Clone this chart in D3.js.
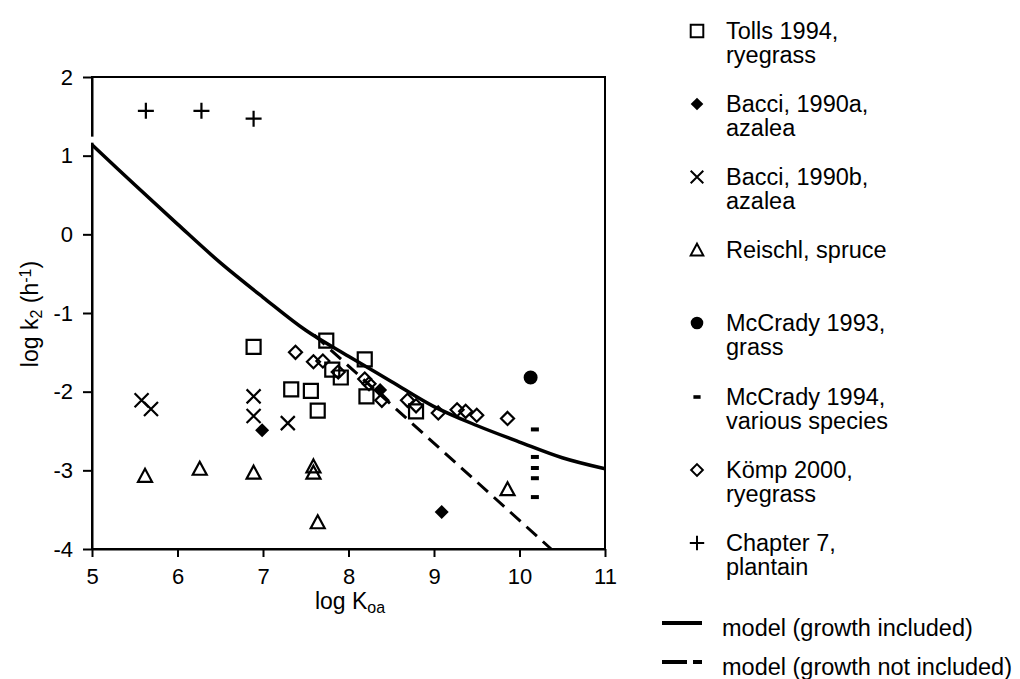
<!DOCTYPE html>
<html>
<head>
<meta charset="utf-8">
<script src="https://cdn.jsdelivr.net/npm/d3@7"></script>
<style>
  body { margin: 0; background: #fff; }
  svg text { font-family: Arial, "Liberation Sans", sans-serif; fill: #000; }
</style>
</head>
<body>
<svg id="chart" width="1020" height="679"></svg>
<script>
// Data (log Koa, log k2)
const tollsX   = [6.89, 7.33, 7.56, 7.64, 7.74, 7.81, 7.91, 8.19, 8.21, 8.79];
const tollsY   = [-1.43, -1.97, -1.99, -2.24, -1.35, -1.72, -1.82, -1.59, -2.06, -2.25];
const bacciAX  = [6.99, 8.37, 9.09];
const bacciAY  = [-2.49, -1.98, -3.53];
const bacciBX  = [5.58, 5.69, 6.89, 6.89, 7.29];
const bacciBY  = [-2.11, -2.22, -2.06, -2.31, -2.40];
const reischlX = [5.62, 6.26, 6.89, 7.59, 7.59, 7.64, 9.86];
const reischlY = [-3.07, -2.98, -3.03, -2.95, -3.03, -3.66, -3.24];
const mc93X    = [10.13];
const mc93Y    = [-1.82];
const mc94X    = [10.18, 10.18, 10.18, 10.18, 10.18];
const mc94Y    = [-2.48, -2.83, -2.97, -3.10, -3.34];
const kompX    = [7.38, 7.59, 7.70, 7.88, 8.19, 8.24, 8.39, 8.69, 8.79, 9.05, 9.27, 9.37, 9.50, 9.86];
const kompY    = [-1.50, -1.62, -1.61, -1.75, -1.84, -1.90, -2.11, -2.11, -2.18, -2.27, -2.23, -2.25, -2.30, -2.34];
const chap7X   = [5.63, 6.28, 6.89];
const chap7Y   = [1.57, 1.57, 1.47];

// Model lines
const modelX        = [5, 5.5, 6, 6.5, 7, 7.5, 8, 8.5, 9, 9.5, 10, 10.5, 11];
const modelGrowth   = [1.14, 0.63, 0.13, -0.36, -0.80, -1.22, -1.55, -1.87, -2.19, -2.43, -2.64, -2.84, -2.98];
const modelNoGrX    = [7.6, 10.37];
const modelNoGrowth = [-1.28, -4.0];

const xTicks = [5, 6, 7, 8, 9, 10, 11];
const yTicks = [-4, -3, -2, -1, 0, 1, 2];

const series = [
  { name: ['Tolls 1994,', 'ryegrass'],          shape: 'square',   xs: tollsX,   ys: tollsY   },
  { name: ['Bacci, 1990a,', 'azalea'],          shape: 'fdiamond', xs: bacciAX,  ys: bacciAY  },
  { name: ['Bacci, 1990b,', 'azalea'],          shape: 'x',        xs: bacciBX,  ys: bacciBY  },
  { name: ['Reischl, spruce'],                  shape: 'triangle', xs: reischlX, ys: reischlY },
  { name: ['McCrady 1993,', 'grass'],           shape: 'circle',   xs: mc93X,    ys: mc93Y    },
  { name: ['McCrady 1994,', 'various species'], shape: 'dash',     xs: mc94X,    ys: mc94Y    },
  { name: ['Kömp 2000,', 'ryegrass'],           shape: 'diamond',  xs: kompX,    ys: kompY    },
  { name: ['Chapter 7,', 'plantain'],           shape: 'plus',     xs: chap7X,   ys: chap7Y   }
];

const margin = { left: 92, right: 605, top: 77, bottom: 549 };
const svg = d3.select('#chart');

const x = d3.scaleLinear().domain([5, 11]).range([margin.left, margin.right]);
const y = d3.scaleLinear().domain([-4, 2]).range([margin.bottom, margin.top]);

// marker shapes
const shapePath = {
  square:   'M-7,-7h14v14h-14z',
  diamond:  'M0,-6.5L6.5,0L0,6.5L-6.5,0Z',
  fdiamond: 'M0,-7L7,0L0,7L-7,0Z',
  triangle: 'M0,-7L7,6L-7,6Z',
  x:        'M-7,-7L7,7M-7,7L7,-7',
  plus:     'M-8,0H8M0,-8V8',
  dash:     'M-4,-2h8v4h-8z',
  circle:   d3.symbol(d3.symbolCircle, 154)()
};
const filled = { fdiamond: true, circle: true, dash: true };

function drawMarker(g, shape) {
  g.append('path')
    .attr('d', shapePath[shape])
    .attr('fill', filled[shape] ? '#000' : 'none')
    .attr('stroke', filled[shape] ? 'none' : '#000')
    .attr('stroke-width', 2.2);
}

const fmt = d => (d < 0 ? '-' + Math.abs(d) : String(d));

// frame
svg.append('rect')
  .attr('x', margin.left).attr('y', margin.top)
  .attr('width', margin.right - margin.left)
  .attr('height', margin.bottom - margin.top)
  .attr('fill', 'none').attr('stroke', '#000').attr('stroke-width', 2);

// axes
const xAxis = svg.append('g')
  .attr('transform', `translate(0,${margin.bottom})`)
  .call(d3.axisBottom(x).tickValues(xTicks).tickFormat(fmt).tickSize(8).tickSizeOuter(0).tickPadding(11));
const yAxis = svg.append('g')
  .attr('transform', `translate(${margin.left},0)`)
  .call(d3.axisLeft(y).tickValues(yTicks).tickFormat(fmt).tickSize(9).tickSizeOuter(0).tickPadding(10));
[xAxis, yAxis].forEach(a => {
  a.select('.domain').attr('stroke-width', 2);
  a.selectAll('.tick line').attr('stroke-width', 2);
  a.selectAll('.tick text').attr('font-size', 22).attr('font-family', 'Arial, "Liberation Sans", sans-serif');
});

// small break of the left axis just above where the model curve starts
svg.append('rect')
  .attr('x', margin.left - 2).attr('width', 4)
  .attr('y', y(modelGrowth[0]) - 8).attr('height', 6)
  .attr('fill', '#fff');

// axis labels
const xl = svg.append('text')
  .attr('x', 350).attr('y', 609)
  .attr('text-anchor', 'middle').attr('font-size', 23);
xl.append('tspan').text('log K');
xl.append('tspan').attr('baseline-shift', '-25%').attr('font-size', 16).text('oa');

const yl = svg.append('text')
  .attr('transform', 'translate(38,314) rotate(-90)')
  .attr('text-anchor', 'middle').attr('font-size', 23);
yl.append('tspan').text('log k');
yl.append('tspan').attr('baseline-shift', '-25%').attr('font-size', 16).text('2');
yl.append('tspan').text(' (h');
yl.append('tspan').attr('baseline-shift', '45%').attr('font-size', 16).text('-1');
yl.append('tspan').text(')');

// model lines
const plot = svg.append('g');
plot.append('path')
  .datum(modelX.map((v, i) => [v, modelGrowth[i]]))
  .attr('d', d3.line().x(d => x(d[0])).y(d => y(d[1])).curve(d3.curveCatmullRom))
  .attr('fill', 'none').attr('stroke', '#000').attr('stroke-width', 3.5);
plot.append('path')
  .datum(modelNoGrX.map((v, i) => [v, modelNoGrowth[i]]))
  .attr('d', d3.line().x(d => x(d[0])).y(d => y(d[1])))
  .attr('fill', 'none').attr('stroke', '#000').attr('stroke-width', 3)
  .attr('stroke-dasharray', '14,8');

// points
series.forEach(s => {
  const pts = s.xs.map((v, i) => [v, s.ys[i]]);
  plot.selectAll(null).data(pts).enter().append('g')
    .attr('transform', d => `translate(${x(d[0])},${y(d[1])})`)
    .each(function () { drawMarker(d3.select(this), s.shape); });
});

// legend
const legendY = [31, 104, 177, 250, 323, 397, 470, 543];
series.forEach((s, i) => {
  const g = svg.append('g').attr('transform', `translate(697,${legendY[i]})`);
  drawMarker(g.append('g').attr('transform', 'scale(0.9)'), s.shape);
  s.name.forEach((t, j) => {
    g.append('text').attr('x', 29).attr('y', j * 24 + 8).attr('font-size', 23.5).text(t);
  });
});
const lg = svg.append('g');
lg.append('line').attr('x1', 662).attr('x2', 702).attr('y1', 623).attr('y2', 623)
  .attr('stroke', '#000').attr('stroke-width', 4);
lg.append('text').attr('x', 722).attr('y', 636).attr('font-size', 23.5).text('model (growth included)');
lg.append('line').attr('x1', 662).attr('x2', 702).attr('y1', 662).attr('y2', 662)
  .attr('stroke', '#000').attr('stroke-width', 4).attr('stroke-dasharray', '25,6');
lg.append('text').attr('x', 722).attr('y', 675).attr('font-size', 23.5).text('model (growth not included)');
</script>
</body>
</html>
